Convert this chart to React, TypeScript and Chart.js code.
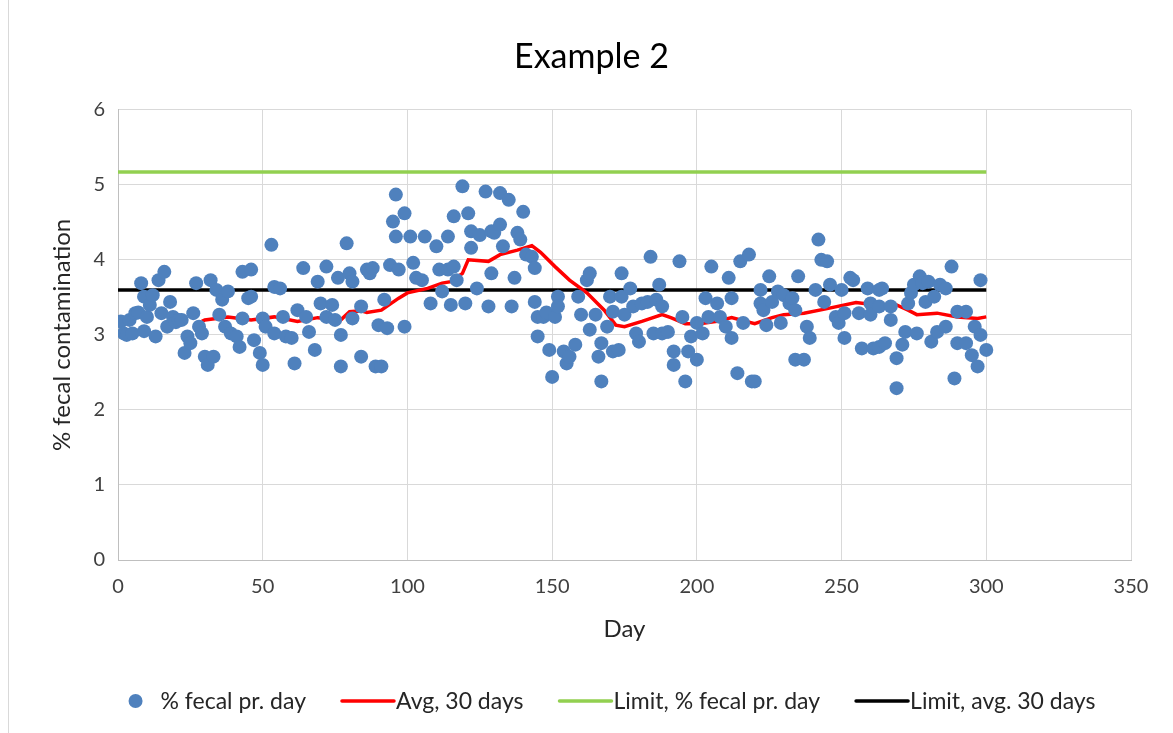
import React, { useEffect, useRef } from "react";
import { Chart, registerables } from "chart.js";

Chart.register(...registerables);

// ---- Data ----
const fecalDays = [
  1, 2, 3, 4, 5, 6, 7, 8, 9, 9,
  10, 11, 12, 13, 14, 15, 16, 17, 18, 19,
  20, 21, 22, 23, 24, 25, 26, 27, 28, 29,
  30, 31, 32, 33, 34, 35, 36, 37, 38, 39,
  41, 42, 43, 43, 45, 46, 46, 47, 49, 50,
  50, 51, 53, 54, 54, 56, 57, 58, 60, 61,
  62, 64, 65, 66, 68, 69, 70, 72, 72, 74,
  75, 76, 77, 77, 79, 80, 81, 81, 84, 84,
  86, 87, 88, 89, 90, 91, 92, 93, 94, 95,
  96, 96, 97, 99, 99, 101, 102, 103, 105, 106,
  108, 110, 111, 112, 114, 114, 115, 116, 116, 117,
  119, 120, 121, 122, 122, 124, 125, 127, 128, 129,
  129, 130, 132, 132, 133, 135, 136, 137, 138, 139,
  140, 141, 143, 144, 144, 145, 145, 147, 148, 149,
  150, 151, 152, 152, 154, 155, 156, 158, 159, 160,
  162, 163, 163, 165, 166, 167, 167, 169, 170, 171,
  171, 173, 174, 174, 175, 177, 178, 179, 180, 181,
  183, 184, 185, 186, 187, 188, 188, 190, 192, 192,
  194, 195, 196, 197, 198, 200, 200, 202, 203, 204,
  205, 207, 208, 210, 211, 212, 212, 214, 215, 216,
  218, 219, 220, 222, 222, 223, 224, 225, 226, 228,
  229, 230, 232, 233, 234, 234, 235, 237, 238, 239,
  241, 242, 243, 244, 245, 246, 248, 249, 250, 251,
  251, 253, 254, 256, 257, 259, 260, 260, 261, 263,
  263, 263, 264, 265, 267, 267, 269, 269, 271, 272,
  273, 274, 275, 276, 277, 278, 279, 280, 281, 282,
  283, 284, 286, 286, 288, 289, 290, 290, 293, 293,
  295, 296, 297, 298, 298, 300,
];

const fecalValues = [
  3.18, 3.02, 3.0, 3.2, 3.02, 3.29, 3.3, 3.69, 3.51, 3.05,
  3.24, 3.4, 3.53, 2.98, 3.73, 3.29, 3.84, 3.11, 3.44, 3.24,
  3.17, 3.2, 3.2, 2.76, 2.98, 2.89, 3.29, 3.69, 3.11, 3.02,
  2.71, 2.6, 3.73, 2.71, 3.6, 3.27, 3.47, 3.11, 3.58, 3.02,
  2.98, 2.84, 3.22, 3.84, 3.49, 3.87, 3.51, 2.93, 2.76, 3.22,
  2.6, 3.11, 4.2, 3.64, 3.02, 3.62, 3.24, 2.98, 2.96, 2.62,
  3.33, 3.89, 3.24, 3.04, 2.8, 3.71, 3.42, 3.91, 3.24, 3.4,
  3.2, 3.76, 3.0, 2.58, 4.22, 3.82, 3.22, 3.71, 2.71, 3.38,
  3.87, 3.82, 3.89, 2.58, 3.13, 2.58, 3.47, 3.09, 3.93, 4.51,
  4.87, 4.31, 3.87, 4.62, 3.11, 4.31, 3.96, 3.76, 3.73, 4.31,
  3.42, 4.18, 3.87, 3.58, 4.31, 3.87, 3.4, 4.58, 3.91, 3.73,
  4.98, 3.42, 4.62, 4.16, 4.38, 3.62, 4.33, 4.91, 3.38, 4.38,
  3.82, 4.36, 4.89, 4.47, 4.18, 4.8, 3.38, 3.76, 4.36, 4.27,
  4.64, 4.07, 4.04, 3.89, 3.44, 2.98, 3.24, 3.24, 3.3, 2.8,
  2.44, 3.24, 3.51, 3.38, 2.78, 2.62, 2.71, 2.87, 3.51, 3.27,
  3.73, 3.07, 3.82, 3.27, 2.71, 2.89, 2.38, 3.11, 3.51, 2.78,
  3.31, 2.8, 3.82, 3.51, 3.27, 3.62, 3.38, 3.02, 2.91, 3.42,
  3.44, 4.04, 3.02, 3.47, 3.67, 3.38, 3.02, 3.04, 2.78, 2.6,
  3.98, 3.24, 2.38, 2.78, 2.98, 3.16, 2.67, 3.02, 3.49, 3.24,
  3.91, 3.42, 3.24, 3.11, 3.76, 3.49, 2.96, 2.49, 3.98, 3.16,
  4.07, 2.38, 2.38, 3.6, 3.42, 3.33, 3.13, 3.78, 3.44, 3.58,
  3.16, 3.53, 3.42, 3.49, 3.33, 2.67, 3.78, 2.67, 3.11, 2.96,
  3.6, 4.27, 4.0, 3.44, 3.98, 3.67, 3.24, 3.16, 3.6, 2.96,
  3.29, 3.76, 3.73, 3.29, 2.82, 3.62, 3.42, 3.27, 2.82, 3.6,
  3.38, 2.84, 3.62, 2.89, 3.38, 3.2, 2.69, 2.29, 2.87, 3.04,
  3.42, 3.56, 3.67, 3.02, 3.78, 3.69, 3.44, 3.71, 2.91, 3.51,
  3.04, 3.67, 3.62, 3.11, 3.91, 2.42, 2.89, 3.31, 3.31, 2.89,
  2.73, 3.11, 2.58, 3.0, 3.73, 2.8,
];

const avgDays = [
  29, 30, 38, 46, 54, 62, 69, 77, 80, 84,
  86, 91, 97, 100, 107, 112, 115, 119, 121, 128,
  132, 138, 143, 146, 151, 156, 162, 168, 172, 175,
  181, 188, 191, 196, 201, 207, 212, 220, 226, 230,
  237, 245, 255, 262, 269, 273, 276, 283, 290, 297,
  300,
];

const avgValues = [
  3.18, 3.2, 3.24, 3.2, 3.24, 3.18, 3.23, 3.2, 3.31, 3.32,
  3.3, 3.33, 3.49, 3.56, 3.62, 3.69, 3.71, 3.82, 4.0, 3.98,
  4.07, 4.13, 4.19, 4.1, 3.91, 3.73, 3.56, 3.33, 3.13, 3.11,
  3.18, 3.27, 3.23, 3.15, 3.15, 3.18, 3.23, 3.15, 3.23, 3.27,
  3.29, 3.35, 3.43, 3.4, 3.4, 3.33, 3.27, 3.29, 3.24, 3.22,
  3.24,
];

const limitDays = [0, 300];
const limitFecalValues = [5.17, 5.17];
const limitAvgValues = [3.6, 3.6];

const xTickValues = [0, 50, 100, 150, 200, 250, 300, 350];
const yTickValues = [0, 1, 2, 3, 4, 5, 6];

const seriesLabels = [
  "% fecal pr. day",
  "Avg, 30 days",
  "Limit, % fecal pr. day",
  "Limit, avg. 30 days",
];

const FONT = "Lato, 'Open Sans', sans-serif";

const toPoints = (xs: number[], ys: number[]) =>
  xs.map((x, i) => ({ x, y: ys[i] }));

const customLegend = {
  id: "customLegend",
  afterDraw(chart: any) {
    const ctx = chart.ctx as CanvasRenderingContext2D;
    const fontSize = 23;
    ctx.save();
    ctx.font = `${fontSize}px ${FONT}`;
    ctx.textBaseline = "middle";
    ctx.textAlign = "left";
    const items = chart.data.datasets.map((d: any) => {
      const isDot = !d.showLine;
      const mw = isDot ? 32 : 56;
      const tw = ctx.measureText(d.label).width;
      return { d, isDot, mw, tw, w: mw + tw };
    });
    const gap = 34;
    const total =
      items.reduce((s: number, it: any) => s + it.w, 0) + gap * (items.length - 1);
    let x = 612 - total / 2;
    const y = 701;
    for (const it of items) {
      if (it.isDot) {
        ctx.fillStyle = it.d.backgroundColor;
        ctx.beginPath();
        ctx.arc(x + 7, y, 7, 0, Math.PI * 2);
        ctx.fill();
      } else {
        ctx.strokeStyle = it.d.borderColor;
        ctx.lineWidth = it.d.borderWidth;
        ctx.lineCap = "round";
        ctx.beginPath();
        ctx.moveTo(x + 2, y);
        ctx.lineTo(x + 54, y);
        ctx.stroke();
      }
      ctx.fillStyle = "#262626";
      ctx.fillText(it.d.label, x + it.mw, y + 1);
      x += it.w + gap;
    }
    ctx.restore();
  },
};

export default function App() {
  const canvasRef = useRef<HTMLCanvasElement | null>(null);

  useEffect(() => {
    if (!canvasRef.current) return;
    const chart = new Chart(canvasRef.current, {
      type: "scatter",
      data: {
        datasets: [
          {
            label: seriesLabels[0],
            data: toPoints(fecalDays, fecalValues),
            showLine: false,
            backgroundColor: "#4F81BD",
            borderColor: "#4F81BD",
            borderWidth: 0,
            pointRadius: 7,
            order: 0,
          },
          {
            label: seriesLabels[1],
            data: toPoints(avgDays, avgValues),
            showLine: true,
            borderColor: "#FF0000",
            backgroundColor: "#FF0000",
            borderWidth: 3.5,
            pointRadius: 0,
            tension: 0,
            order: 1,
          },
          {
            label: seriesLabels[2],
            data: toPoints(limitDays, limitFecalValues),
            showLine: true,
            borderColor: "#92D050",
            backgroundColor: "#92D050",
            borderWidth: 3.5,
            pointRadius: 0,
            order: 3,
          },
          {
            label: seriesLabels[3],
            data: toPoints(limitDays, limitAvgValues),
            showLine: true,
            borderColor: "#000000",
            backgroundColor: "#000000",
            borderWidth: 3.5,
            pointRadius: 0,
            order: 2,
          },
        ],
      },
      options: {
        animation: false,
        responsive: false,
        devicePixelRatio: 1,
        layout: { padding: { left: 52, right: 42, top: 0, bottom: 78 } },
        plugins: {
          legend: { display: false },
          tooltip: { enabled: false },
          title: {
            display: true,
            text: "Example 2",
            color: "#000000",
            font: { family: FONT, size: 34, weight: "normal" },
            padding: { top: 37, bottom: 32 },
          },
        },
        scales: {
          x: {
            type: "linear",
            min: 0,
            max: 350,
            afterBuildTicks: (scale: any) => {
              scale.ticks = xTickValues.map((v) => ({ value: v }));
            },
            afterFit: (scale: any) => {
              scale.height = 95;
            },
            grid: { color: "#D9D9D9", drawTicks: false, lineWidth: 1 },
            border: { display: true, color: "#BFBFBF" },
            ticks: {
              color: "#404040",
              font: { family: FONT, size: 20 },
              padding: 15,
              maxRotation: 0,
            },
            title: {
              display: true,
              text: "Day",
              color: "#262626",
              font: { family: FONT, size: 24 },
              padding: { top: 0, bottom: 11 },
            },
          },
          y: {
            type: "linear",
            min: 0,
            max: 6,
            afterBuildTicks: (scale: any) => {
              scale.ticks = yTickValues.map((v) => ({ value: v }));
            },
            afterFit: (scale: any) => {
              scale.width = 66;
            },
            grid: { color: "#D9D9D9", drawTicks: false, lineWidth: 1 },
            border: { display: true, color: "#BFBFBF" },
            ticks: {
              color: "#404040",
              font: { family: FONT, size: 20 },
              padding: 13,
            },
            title: {
              display: true,
              text: "% fecal contamination",
              color: "#262626",
              font: { family: FONT, size: 24 },
              padding: { top: -4, bottom: 0 },
            },
          },
        },
      },
      plugins: [customLegend],
    });
    return () => chart.destroy();
  }, []);

  return (
    <div
      style={{
        position: "absolute",
        left: 0,
        top: 0,
        width: 1173,
        height: 733,
        background: "#ffffff",
      }}
    >
      <canvas ref={canvasRef} width={1173} height={733} />
      <div
        style={{
          position: "absolute",
          left: 8,
          top: 0,
          width: 0,
          height: 733,
          borderLeft: "1px solid #D9D9D9",
        }}
      />
    </div>
  );
}
